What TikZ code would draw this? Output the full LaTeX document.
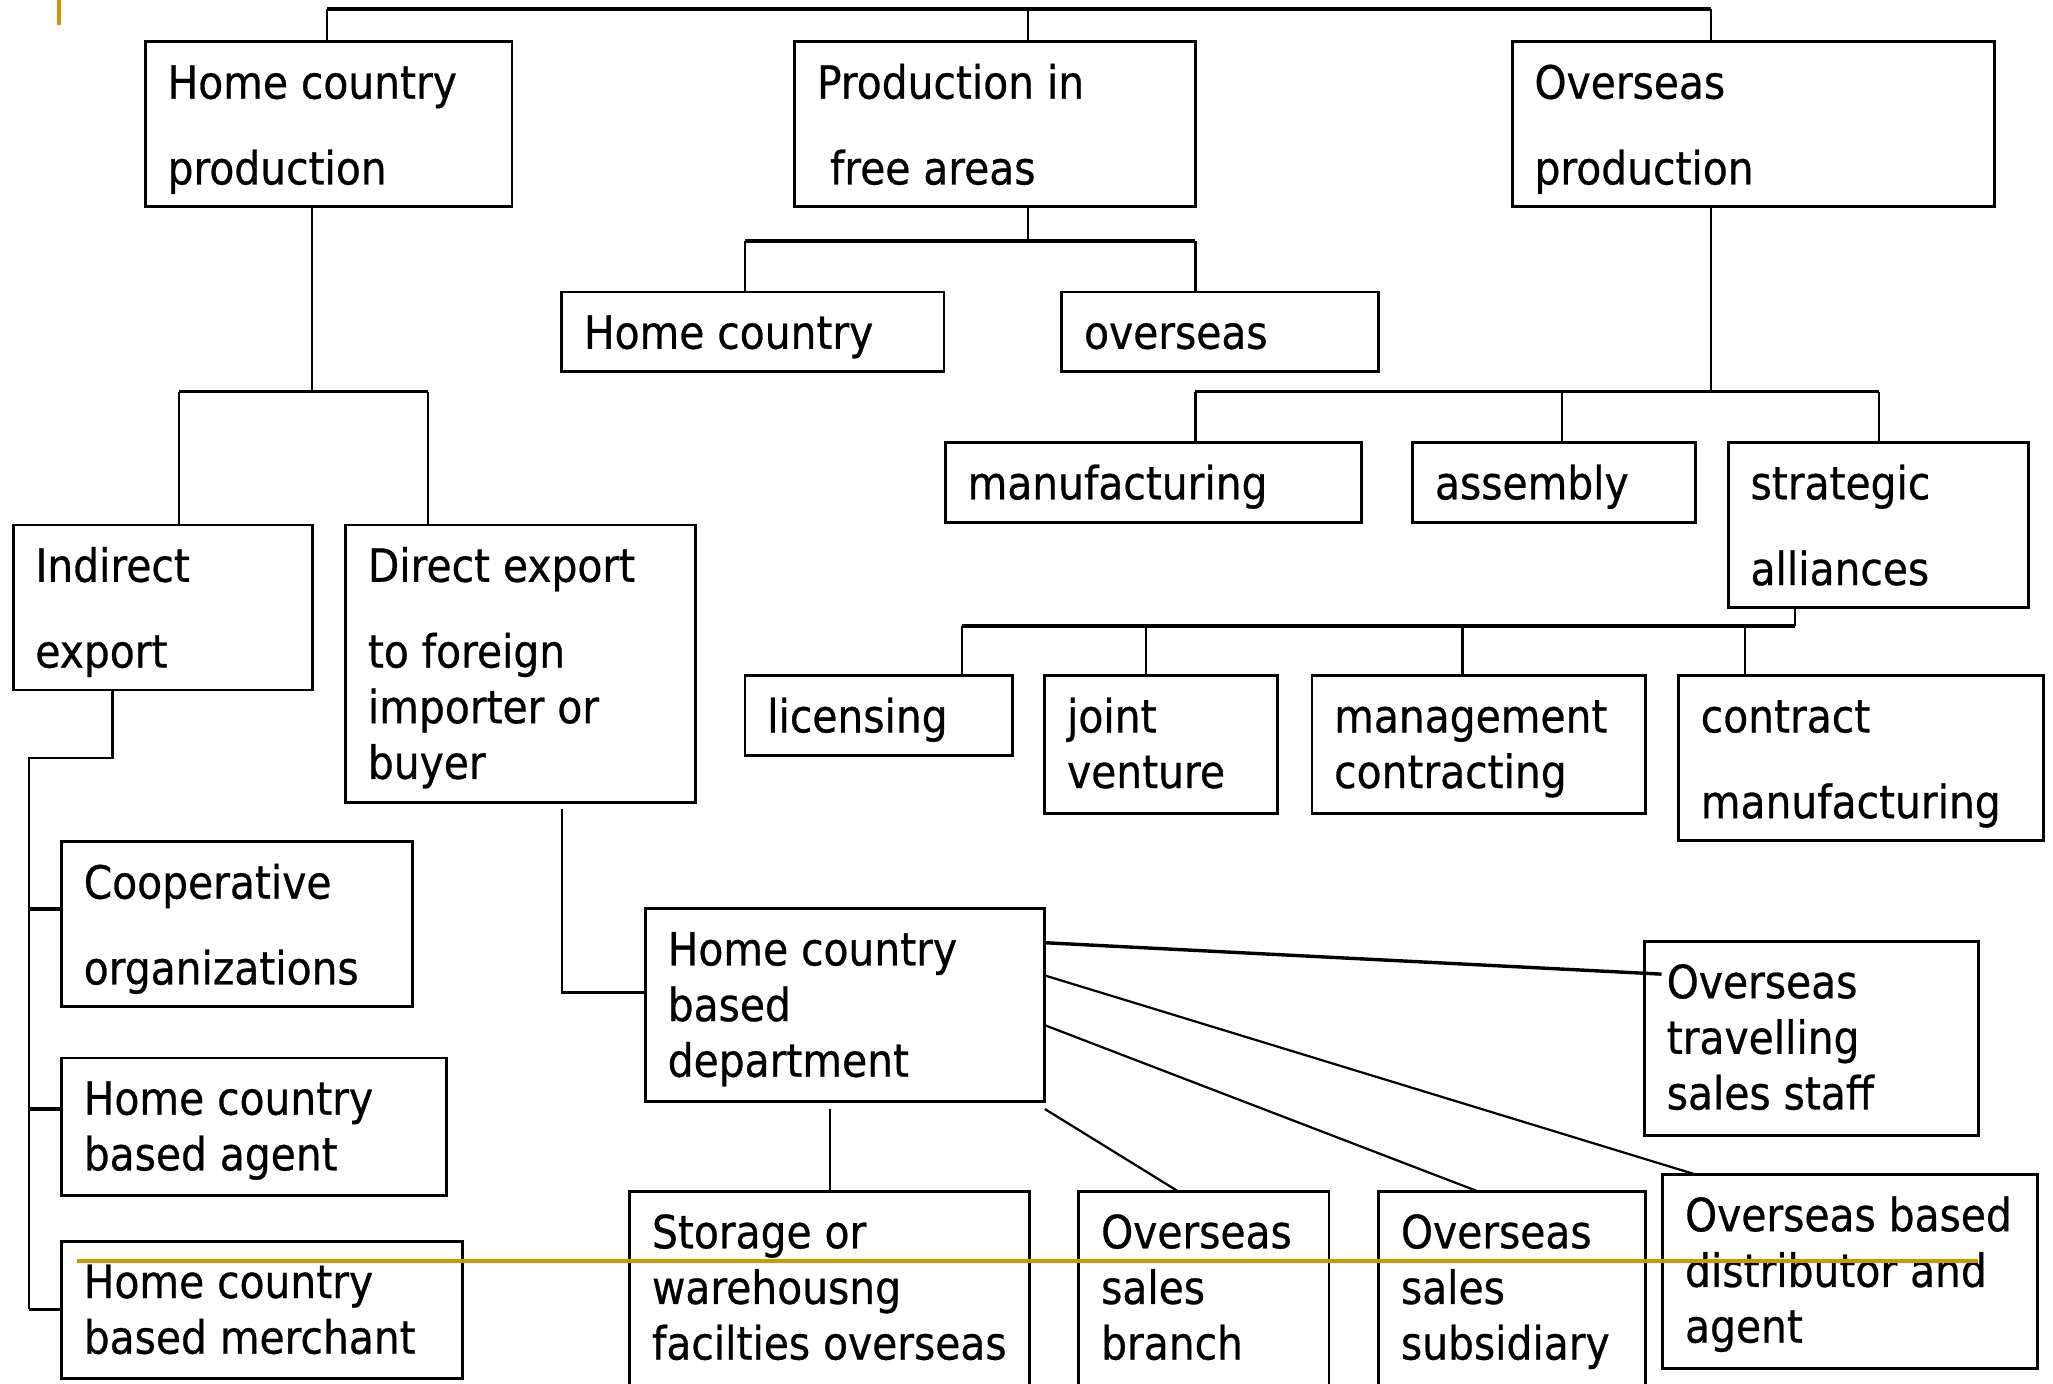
\documentclass[tikz,border=0pt]{standalone}
\usepackage{fontspec}
\setmainfont{DejaVu Sans}[FakeStretch=0.89,FakeBold=0.6]
\usetikzlibrary{calc}
\definecolor{gold}{RGB}{204,153,0}
\newcommand\fsz{\fontsize{17.5pt}{21.25pt}\selectfont}
\newcommand\bx[3]{\parbox[t][\dimexpr #2pt/2-13.6pt\relax][t]{\dimexpr #1pt/2-17pt\relax}{\begin{tabular}[t]{@{}l@{}}#3\end{tabular}}}
\hfuzz=400pt \vfuzz=400pt \hbadness=10000 \vbadness=10000
\tikzset{
  nbox/.style={draw, rectangle, line width=1.1pt, anchor=north west, inner xsep=8.5pt, inner ysep=6.8pt, outer sep=0pt, font=\fsz},
  conn/.style={draw, line width=0.85pt},
  bus/.style={draw, line width=1.4pt},
  goldline/.style={draw=gold, line width=1.5pt}
}
\begin{document}
\begin{tikzpicture}[x=0.5pt, y=-0.5pt]
\useasboundingbox (0,0) rectangle (1568,1057);
\fill[white] (0,0) rectangle (1568,1057);
\clip (0,0) rectangle (1568,1057);
% boxes
\node[nbox] (A)  at (111,32)  {\bx{280}{126}{Home country\\[11.5pt] production}};
\node[nbox] (B)  at (607,32)  {\bx{306}{126}{Production in\\[11.5pt] \ free areas}};
\node[nbox] (C)  at (1155,32) {\bx{368}{126}{Overseas\\[11.5pt] production}};
\node[nbox] (HC) at (429,223) {\bx{292}{61}{Home country}};
\node[nbox] (OV) at (811,223) {\bx{242}{61}{overseas}};
\node[nbox] (MF) at (722,338) {\bx{318}{61}{manufacturing}};
\node[nbox] (AS) at (1079,338){\bx{216}{61}{assembly}};
\node[nbox] (SA) at (1320,338){\bx{229}{126}{strategic\\[11.5pt] alliances}};
\node[nbox] (LI) at (569,516) {\bx{204}{61}{licensing}};
\node[nbox] (JV) at (798,516) {\bx{178}{105}{joint\\ venture}};
\node[nbox] (MC) at (1002,516){\bx{255}{105}{management\\ contracting}};
\node[nbox] (CM) at (1282,516){\bx{279}{126}{contract\\[11.5pt] manufacturing}};
\node[nbox] (IE) at (10,401)  {\bx{229}{126}{Indirect\\[11.5pt] export}};
\node[nbox] (DE) at (264,401) {\bx{267}{212}{Direct export\\[11.5pt] to foreign\\ importer or\\ buyer}};
\node[nbox] (CO) at (47,643)  {\bx{268}{126}{Cooperative\\[11.5pt] organizations}};
\node[nbox] (AG) at (47,808)  {\bx{294}{105}{Home country\\ based agent}};
\node[nbox] (ME) at (47,948)  {\bx{306}{105}{Home country\\ based merchant}};
\node[nbox] (DP) at (493,694) {\bx{305}{147}{Home country\\ based\\ department}};
\node[nbox] (TR) at (1256,719){\bx{255}{148}{Overseas\\ travelling\\ sales staff}};
\node[nbox] (ST) at (481,910) {\bx{305}{150}{Storage or\\ warehousng\\ facilties overseas}};
\node[nbox] (BR) at (824,910) {\bx{191}{150}{Overseas\\ sales\\ branch}};
\node[nbox] (SU) at (1053,910){\bx{204}{150}{Overseas\\ sales\\ subsidiary}};
\node[nbox] (DI) at (1270,897){\bx{286}{148}{Overseas based\\ distributor and\\ agent}};
% top level bus
\coordinate (t1) at (250,7);
\coordinate (t2) at (785,7);
\coordinate (t3) at (1307,7);
\draw[bus] (t1) -- (t3);
\draw[conn] (t1) -- (t1 |- A.north);
\draw[conn] (t2) -- (t2 |- B.north);
\draw[conn] (t3) -- (t3 |- C.north);
% free areas
\coordinate (b0) at (785,184);
\coordinate (b1) at (569,184);
\coordinate (b2) at (913,184);
\draw[conn] (b0 |- B.south) -- (b0);
\draw[bus] (b1) -- (b2);
\draw[conn] (b1) -- (b1 |- HC.north);
\draw[conn] (b2) -- (b2 |- OV.north);
% overseas production
\coordinate (c0) at (1307,299);
\coordinate (c1) at (913,299);
\coordinate (c2) at (1193,299);
\coordinate (c3) at (1435,299);
\draw[conn] (c0 |- C.south) -- (c0);
\draw[bus] (c1) -- (c3);
\draw[conn] (c1) -- (c1 |- MF.north);
\draw[conn] (c2) -- (c2 |- AS.north);
\draw[conn] (c3) -- (c3 |- SA.north);
% strategic alliances
\coordinate (s0) at (1371,478);
\coordinate (s1) at (735,478);
\coordinate (s2) at (875,478);
\coordinate (s3) at (1117,478);
\coordinate (s4) at (1333,478);
\draw[conn] (s0 |- SA.south) -- (s0);
\draw[bus] (s1) -- (s0);
\draw[conn] (s1) -- (s1 |- LI.north);
\draw[conn] (s2) -- (s2 |- JV.north);
\draw[conn] (s3) -- (s3 |- MC.north);
\draw[conn] (s4) -- (s4 |- CM.north);
% home country production
\coordinate (a0) at (238,299);
\coordinate (a1) at (137,299);
\coordinate (a2) at (327,299);
\draw[conn] (a0 |- A.south) -- (a0);
\draw[conn] (a1) -- (a2);
\draw[conn] (a1) -- (a1 |- IE.north);
\draw[conn] (a2) -- (a2 |- DE.north);
% indirect export
\coordinate (i0) at (86,579);
\coordinate (i1) at (22,579);
\coordinate (i2) at (22,694);
\coordinate (i3) at (22,847);
\coordinate (i4) at (22,1000);
\draw[conn] (i0 |- IE.south) -- (i0) -- (i1) -- (i4);
\draw[bus] (i2) -- (i2 -| CO.west);
\draw[bus] (i3) -- (i3 -| AG.west);
\draw[bus] (i4) -- (i4 -| ME.west);
% direct export
\coordinate (e0) at (429,618);
\coordinate (e1) at (429,758);
\draw[conn] (e0) -- (e1) -- (e1 -| DP.west);
% department
\draw[line width=1.3pt] ($(DP.north east)+(0,26)$) -- ($(TR.north west)+(13,25)$);
\draw[conn] ($(DP.north east)+(0,51)$) -- ($(DI.north west)+(25,0)$);
\draw[conn] ($(DP.north east)+(0,89)$) -- ($(SU.north west)+(76,0)$);
\draw[conn] ($(DP.south east)+(0,6)$) -- ($(BR.north west)+(76,0)$);
\draw[conn] ($(ST.north west)+(153,-63)$) -- ($(ST.north west)+(153,0)$);
% decorative gold lines
\draw[goldline] (59,963) -- (1511,963);
\draw[draw=gold, line width=1.4pt] (45,0) -- (45,19);
\end{tikzpicture}
\end{document}
